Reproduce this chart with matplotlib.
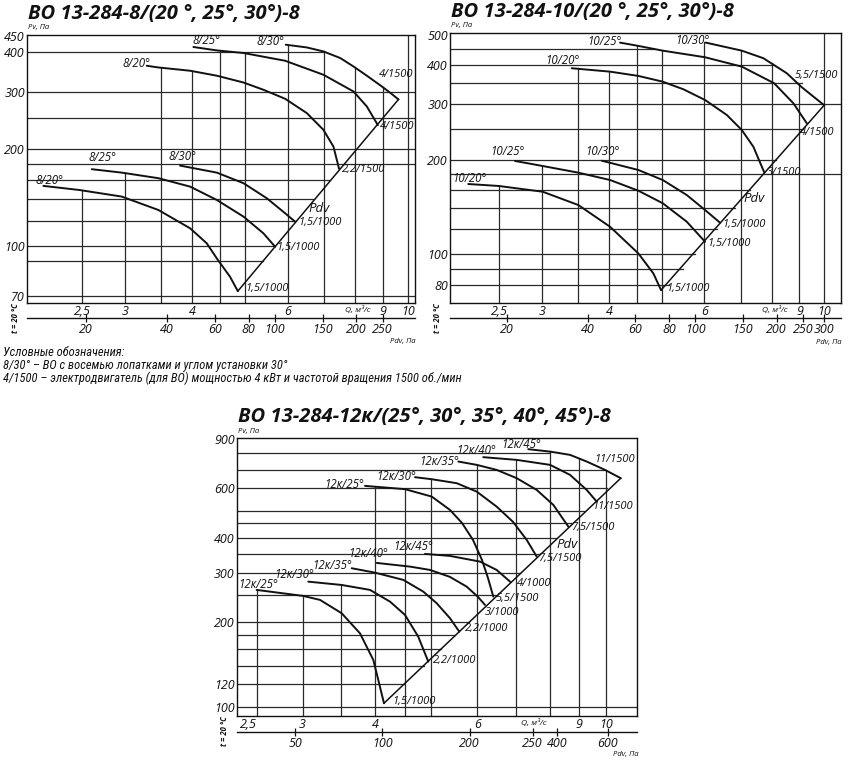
import numpy as np
import matplotlib
matplotlib.use('Agg')
import matplotlib.pyplot as plt
import matplotlib.ticker as ticker
from matplotlib import font_manager
from matplotlib.transforms import blended_transform_factory

plt.rcParams['font.family'] = ['Open Sans', 'DejaVu Sans']
plt.rcParams['font.style'] = 'italic'

W, H = 850, 760
INK = '#111111'
GRID = '#2a2a2a'

q_ticks = [2.5, 3, 4, 6, 9, 10]
q_ticklabels = ['2,5', '3', '4', '6', '9', '10']
grid_q = [2.5, 3, 3.5, 4, 4.5, 5, 6, 7, 8, 9, 10]

# ---------- ВО 13-284-8 ----------
p1_title = 'ВО 13-284-8/(20 °, 25°, 30°)-8'
p1_names = ['8/20°', '8/25°', '8/30°', '8/20°', '8/25°', '8/30°']
p1_motors = ['2,2/1500', '4/1500', '4/1500', '1,5/1000', '1,5/1000', '1,5/1000']
p1_q = [
    [3.293, 3.459, 3.96, 4.436, 4.969, 5.409, 5.932, 6.506, 6.982, 7.287, 7.464],
    [4.016, 4.436, 4.969, 5.932, 6.982, 7.936, 8.4, 8.803],
    [5.95, 6.506, 6.982, 7.499, 7.936, 8.4, 8.954, 9.344, 9.61],
    [2.121, 2.469, 2.96, 3.459, 3.96, 4.251, 4.436, 4.694, 4.851],
    [2.606, 2.96, 3.459, 3.96, 4.436, 4.969, 5.409, 5.684],
    [3.794, 4.436, 4.969, 5.488, 5.932, 6.19],
]
p1_pv = [
    [362.9, 358.5, 350.2, 338, 322, 305.7, 286.7, 258.8, 229.7, 203.8, 173.8],
    [414.9, 404.9, 397.5, 376.1, 340.3, 302, 271.3, 237.5],
    [421.7, 413.6, 402, 383.5, 361, 338, 313, 296.4, 285.3],
    [153.9, 149.5, 142.6, 129.6, 113.7, 102.1, 91.7, 80.4, 72.6],
    [173.4, 169.2, 162.6, 153.1, 139.2, 123.6, 109.7, 99.7],
    [177.9, 169.2, 156.9, 140.9, 126.6, 119.2],
]
p1_diag_q = [4.851, 9.61]
p1_diag_pv = [72.6, 285.3]
p1_hgrid = [70, 90, 100, 120, 140, 160, 180, 200, 250, 300, 400]
p1_hgrid_end = [None, 5.39, 5.68, 6.22, 6.72, 7.18, None, None, None, None, 7.0]
p1_vgrid_top = [149, 169, 358, 350, 403, 398, 421, 402, 358, 311, None]
p1_yticks = [70, 100, 200, 300, 400, 450]
p1_pdv_ticks = [20, 40, 60, 80, 100, 150, 200, 250]
p1_pdv_labels = ['20', '40', '60', '80', '100', '150', '200', '250']

# ---------- ВО 13-284-10 ----------
p2_title = 'ВО 13-284-10/(20 °, 25°, 30°)-8'
p2_names = ['10/20°', '10/25°', '10/30°', '10/20°', '10/25°', '10/30°']
p2_motors = ['3/1500', '4/1500', '5,5/1500', '1,5/1000', '1,5/1000', '1,5/1000']
p2_q = [
    [3.409, 4.014, 4.529, 5.025, 5.487, 6.018, 6.603, 7.038, 7.394, 7.75],
    [4.189, 4.529, 5.025, 6.018, 7.038, 8.08, 8.77, 9.286],
    [6.036, 7.038, 7.717, 8.527, 9.09, 10.0],
    [2.193, 2.5, 3.013, 3.507, 4.014, 4.529, 4.828, 4.989],
    [2.677, 3.013, 3.507, 4.014, 4.529, 5.025, 5.567, 6.018],
    [3.874, 4.529, 5.025, 5.567, 6.018, 6.415],
]
p2_pv = [
    [390.8, 381.2, 369.4, 354.2, 335, 309.7, 277.5, 248.6, 219.9, 181.8],
    [471.6, 460.3, 444.6, 423.6, 395.5, 350.1, 302.3, 261.1],
    [471.6, 444.6, 420.6, 376.8, 340, 298],
    [167.3, 164.9, 158.1, 143.4, 122.3, 100.6, 86.9, 76.9],
    [198.1, 190.9, 181.8, 172.3, 159.3, 145.3, 126.9, 109.6],
    [198.5, 185.4, 172.3, 154.3, 138.3, 126],
]
p2_diag_q = [4.989, 10.0]
p2_diag_pv = [76.9, 298]
p2_hgrid = [80, 90, 100, 120, 140, 160, 180, 200, 250, 300, 350, 400, 450]
p2_hgrid_end = [5.16, 5.48, 5.77, 6.32, 6.83, 7.3, None, 8.16, 9.13, None, 9.1, 8.08, 4.85]
p2_vgrid_top = [165, 191, 391, 381, 460, 445, 472, 445, 405, 345, None]
p2_yticks = [80, 100, 200, 300, 400, 500]
p2_pdv_ticks = [20, 40, 60, 80, 100, 150, 200, 250, 300]
p2_pdv_labels = ['20', '40', '60', '80', '100', '150', '200', '250', '300']

# ---------- ВО 13-284-12к ----------
p3_title = 'ВО 13-284-12к/(25°, 30°, 35°, 40°, 45°)-8'
p3_names = ['12к/25°', '12к/30°', '12к/35°', '12к/40°', '12к/45°',
            '12к/25°', '12к/30°', '12к/35°', '12к/40°', '12к/45°']
p3_motors = ['5,5/1500', '7,5/1500', '7,5/1500', '11/1500', '11/1500',
             '1,5/1000', '2,2/1000', '2,2/1000', '3/1000', '4/1000']
p3_q = [
    [3.845, 4.506, 5.01, 5.386, 5.649, 5.902, 6.116, 6.263, 6.397],
    [4.688, 5.01, 5.532, 5.989, 6.483, 6.918, 7.305, 7.6],
    [5.567, 5.989, 6.483, 7.02, 7.6, 8.119, 8.617],
    [6.147, 7.02, 8.013, 8.675, 9.268, 9.643],
    [7.35, 8.013, 8.675, 9.268, 9.968, 10.61],
    [2.5, 3.009, 3.216, 3.504, 3.768, 3.973, 4.052, 4.145],
    [3.069, 3.504, 3.921, 4.246, 4.506, 4.749, 4.942],
    [3.646, 4.0, 4.476, 4.845, 5.11, 5.386, 5.589],
    [4.027, 4.596, 4.975, 5.386, 5.755, 6.02, 6.19],
    [4.877, 5.386, 6.067, 6.483, 6.837],
]
p3_pv = [
    [612.9, 596.6, 561.3, 503.1, 452.1, 393.1, 333.6, 287.7, 246.8],
    [658.2, 647.4, 626.6, 584.8, 516.9, 456, 393.1, 342.8],
    [748.5, 728.4, 698.9, 652.9, 592.9, 524.1, 438.6],
    [775.9, 758.8, 728.4, 670.9, 592.9, 538.7],
    [828.5, 812.3, 790.7, 748.5, 698.9, 652.8],
    [260.8, 248.2, 240.2, 215.3, 182.6, 146.7, 124.5, 102.8],
    [279.1, 271.6, 260.8, 236.8, 212.3, 177.6, 144.7],
    [311.6, 300.5, 283.1, 257.1, 233.7, 206.7, 185.1],
    [325.5, 315.8, 307.3, 290.2, 267.9, 246.2, 230.5],
    [350.5, 344.8, 329.1, 307.3, 279.1],
]
p3_diag_q = [4.145, 10.61]
p3_diag_pv = [102.8, 652.8]
p3_hgrid = [100, 120, 140, 160, 180, 200, 250, 300, 350, 400, 450, 500, 600, 700, 800]
p3_hgrid_end = [None, 4.49, 4.85, 5.19, 5.5, 5.8, 6.48, 7.1, 7.67, 8.2, 8.7, 9.17, 10.04, 9.97, 8.0]
p3_vgrid_top = [260, 248, 271, 605, 596, 647, 728, 759, 812, 768, 697]
p3_yticks = [100, 120, 200, 300, 400, 600, 900]
p3_pdv_ticks = [50, 100, 200, 330, 400, 600]
p3_pdv_labels = ['50', '100', '200', '250', '400', '600']

legend_lines = ['Условные обозначения:',
                '8/30° – ВО с восемью лопатками и углом установки 30°',
                '4/1500 – электродвигатель (для ВО) мощностью 4 кВт и частотой вращения 1500 об./мин']

fig = plt.figure(figsize=(W / 100, H / 100), dpi=100)
fig.patch.set_facecolor('white')


def fx(x):
    return x / W


def fy(y):
    return 1 - y / H


def panel(box, xlim, ylim, k, pdv_y, qs, pvs, names, name_off, motors, motor_off, motor_ha,
          diag_q, diag_pv, hgrid, hgrid_end, vgrid_top, yticks, pdv_ticks, pdv_labels,
          q_lab, pdv_xy, title, first_right=False):
    l, t, r, b = box
    ax = fig.add_axes([fx(l), fy(b), (r - l) / W, (b - t) / H])
    ax.set_xscale('log')
    ax.set_yscale('log')
    ax.set_xlim(*xlim)
    ax.set_ylim(*ylim)

    for y, xe in zip(hgrid, hgrid_end):
        ax.plot([xlim[0], xe if xe else xlim[1]], [y, y], color=GRID, lw=0.9)
    for x, yt in zip(grid_q, vgrid_top):
        ax.plot([x, x], [ylim[0], yt if yt else ylim[1]], color=GRID, lw=0.9)

    ax.plot(diag_q, diag_pv, color=INK, lw=1.1)
    for q, pv, nm, no, mo, mf, ha in zip(qs, pvs, names, name_off, motors, motor_off, motor_ha):
        ax.plot(q, pv, color=INK, lw=1.4, solid_capstyle='round')
        ax.annotate(nm, (q[0], pv[0]), xytext=no, textcoords='offset pixels',
                    ha='center', va='center', fontsize=8.3, color=INK)
        ax.annotate(mo, (q[-1], pv[-1]), xytext=mf, textcoords='offset pixels',
                    ha=ha, va='center', fontsize=8, color=INK)
    ax.text(pdv_xy[0], pdv_xy[1], 'Pdv', fontsize=9.5, color=INK, ha='center', va='center')

    for s in ax.spines.values():
        s.set_linewidth(1.0)
        s.set_color(INK)

    ax.set_xticks(q_ticks, q_ticklabels)
    ax.set_yticks(yticks, [str(v) for v in yticks])
    ax.xaxis.set_minor_locator(ticker.NullLocator())
    ax.yaxis.set_minor_locator(ticker.NullLocator())
    ax.tick_params(length=0, pad=1.5, labelsize=9, colors=INK)
    if first_right:
        ax.get_xticklabels()[0].set_horizontalalignment('right')

    tr = blended_transform_factory(ax.transData, ax.transAxes)
    ax.text(q_lab, -7 / (b - t), 'Q, м³/с', transform=tr, fontsize=6, ha='center', va='center', color=INK)

    sec = ax.secondary_xaxis(-(pdv_y - b) / (b - t),
                             functions=(lambda q: k * q ** 2,
                                        lambda p: np.sqrt(np.clip(p, 1e-9, None) / k)))
    sec.set_xticks(pdv_ticks, pdv_labels)
    sec.xaxis.set_minor_locator(ticker.NullLocator())
    sec.tick_params(direction='inout', length=6, width=0.9, pad=0.5, labelsize=9, colors=INK)
    sec.spines['bottom'].set_linewidth(1.0)
    sec.spines['bottom'].set_color(INK)

    fig.text(fx(l + 1), fy(t - 21), title, fontsize=14.5, fontweight='bold', color=INK, va='center')
    fig.text(fx(l + 1), fy(t - 7), 'Pv, Па', fontsize=5.5, color=INK, va='center')
    fig.text(fx(r + 1), fy(b + 39), 'Pdv, Па', fontsize=5.5, color=INK, ha='right', va='center')
    fig.text(fx(l - 12), fy(b + 15), 't = 20 °C', fontsize=5.5, fontweight='bold', color=INK,
             rotation=90, ha='center', va='center')
    return ax


panel((27, 35, 415, 303), (1.978, 10.31), (66.7, 452), 3.1, 318.3,
      p1_q, p1_pv, p1_names,
      [(-10, 2), (13, 6), (-15, 3.5), (6, 5), (11, 12), (2, 9)],
      p1_motors, [(3, -1), (2, -1), (-2, 25), (8, 3), (1, -1), (3, -1)],
      ['left', 'left', 'center', 'left', 'left', 'left'],
      p1_diag_q, p1_diag_pv, p1_hgrid, p1_hgrid_end, p1_vgrid_top, p1_yticks,
      p1_pdv_ticks, p1_pdv_labels, 8.08, (6.86, 130.5), p1_title)

panel((450, 33, 840.7, 303.3), (2.029, 10.73), (69.8, 506), 3.0, 318.3,
      p2_q, p2_pv, p2_names,
      [(-9, 8), (-16, 1), (-13, 2), (1, 6), (-7.5, 9), (1, 9)],
      p2_motors, [(2, 0), (-7, -9), (-8, 30), (5, 2), (2, -2), (2, -2)],
      ['left', 'left', 'center', 'left', 'left', 'left'],
      p2_diag_q, p2_diag_pv, p2_hgrid, p2_hgrid_end, p2_vgrid_top, p2_yticks,
      p2_pdv_ticks, p2_pdv_labels, 8.1, (7.42, 150), p2_title)

panel((236.7, 438.3, 637.3, 715.7), (2.31, 11.33), (92.8, 906), 5.9, 731.7,
      p3_q, p3_pv, p3_names,
      [(-21, 1), (-19, 1), (-19, 0), (-7, 7), (-7, 5), (2, 5), (-14, 7), (-19, 3), (-8, 9.5), (-12, 7)],
      p3_motors, [(2, -2), (1, -2), (3, -1), (-4, -5), (-6, 19), (8, 2), (5, 1), (6, 3), (0, -7.5), (7, -2)],
      ['left', 'left', 'left', 'left', 'center', 'left', 'left', 'left', 'left', 'left'],
      p3_diag_q, p3_diag_pv, p3_hgrid, p3_hgrid_end, p3_vgrid_top, p3_yticks,
      p3_pdv_ticks, p3_pdv_labels, 7.51, (8.59, 380), p3_title, first_right=True)

# narrow face for the notes if one is installed, otherwise a smaller regular face
installed = {f.name for f in font_manager.fontManager.ttflist}
narrow = [n for n in ['Liberation Sans Narrow', 'Roboto Condensed', 'Open Sans Condensed'] if n in installed]
if narrow:
    note_family, note_size = [narrow[0], 'DejaVu Sans'], 9
else:
    note_family, note_size = ['Open Sans', 'DejaVu Sans'], 7.2

for i, line in enumerate(legend_lines):
    fig.text(fx(3), fy(352.5 + 13 * i), line, fontsize=note_size, color=INK, va='center',
             family=note_family)

fig.savefig('out.png', dpi=100, facecolor='white')
